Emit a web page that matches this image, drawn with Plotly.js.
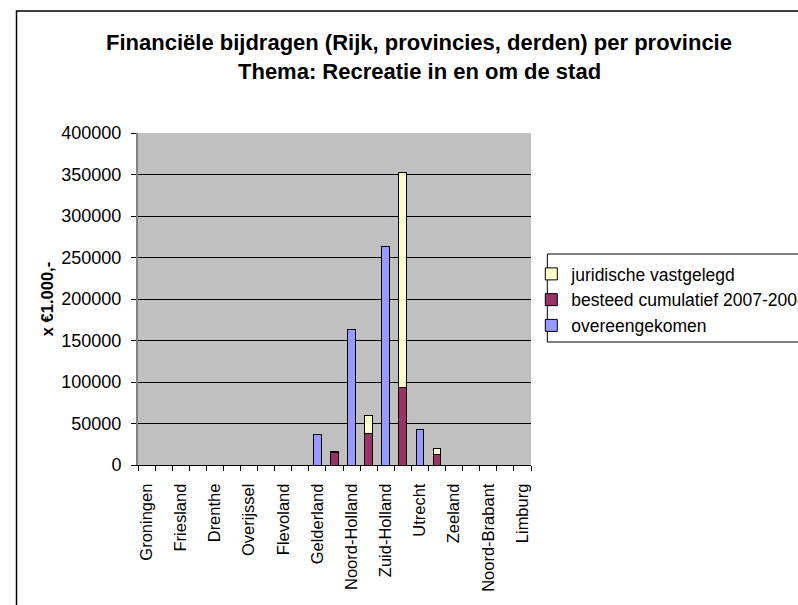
<!DOCTYPE html>
<html>
<head>
<meta charset="utf-8">
<script src="https://cdn.plot.ly/plotly-3.0.1.min.js"></script>
<style>html,body{margin:0;padding:0;background:#fff;}#chart{width:798px;height:605px;}</style>
</head>
<body>
<div id="chart"></div>
<script>
// Categories (provinces)
const provinces = ["Groningen","Friesland","Drenthe","Overijssel","Flevoland","Gelderland",
  "Noord-Holland","Zuid-Holland","Utrecht","Zeeland","Noord-Brabant","Limburg"];
// Series values (x € 1.000,-)
const overeengekomen = [null,null,null,null,null,36500,163000,263000,43000,null,null,null];
const besteed        = [null,null,null,null,null,14500,38000,93500,13000,null,null,null];
const juridisch      = [null,null,null,null,null,1200,22000,259500,6500,null,null,null];
// Axis ticks
const yTicks = [0,50000,100000,150000,200000,250000,300000,350000,400000];
const seriesNames = ["overeengekomen","besteed cumulatief 2007-2008","juridische vastgelegd"];

const FONT = "Liberation Sans, Arial, sans-serif";
// each province gets two slots: agreed bar, then the stacked spent/committed bar
const slotA = provinces.map((p,i)=>2*i);
const slotB = provinces.map((p,i)=>2*i+1);
const nSlots = provinces.length*2 - 1;
const boundaries = Array.from({length:nSlots+1},(_,k)=>k-0.5);

const barW = 0.46;
const traces = [
  {type:"bar", name:seriesNames[0], x:slotA, y:overeengekomen, width:barW, legendrank:3,
   marker:{color:"#9999FF", line:{color:"#000", width:1}}, hoverinfo:"skip"},
  {type:"bar", name:seriesNames[1], x:slotB, y:besteed, width:barW, legendrank:2,
   marker:{color:"#993366", line:{color:"#000", width:1}}, hoverinfo:"skip"},
  {type:"bar", name:seriesNames[2], x:slotB, y:juridisch, width:barW, legendrank:1,
   marker:{color:"#FFFFCC", line:{color:"#000", width:1}}, hoverinfo:"skip"},
  // invisible trace to carry boundary tick marks on the overlaying axis
  {type:"scatter", x:[-0.5], y:[0], xaxis:"x2", mode:"markers", marker:{opacity:0},
   showlegend:false, hoverinfo:"skip"}
];

const L=138.3, R=530.7, T=133, B=465;
const pw = R-L, ph = B-T;
const px = v => (v-L)/pw;
const py = v => (B-v)/ph;

const layout = {
  width:798, height:605,
  paper_bgcolor:"#fff", plot_bgcolor:"#C0C0C0",
  font:{family:FONT, size:17, color:"#000"},
  margin:{l:L, r:798-R, t:T, b:605-B, autoexpand:false},
  barmode:"stack",
  showlegend:true,
  title:{text:"Financiële bijdragen (Rijk, provincies, derden) per provincie",
         font:{family:FONT, size:22, color:"#000", weight:"bold"},
         x:419/798, xanchor:"center", xref:"container",
         y:1-42.5/605, yanchor:"middle", yref:"container"},
  annotations:[{text:"<b>Thema: Recreatie in en om de stad</b>", xref:"paper", yref:"paper",
    x:px(419), y:py(71.5), xanchor:"center", yanchor:"middle", showarrow:false,
    font:{family:FONT, size:22, color:"#000"}}],
  xaxis:{
    range:[-0.5, nSlots-0.5], tickmode:"array", tickvals:slotA, ticktext:provinces,
    tickangle:-90, ticks:"outside", ticklen:11, tickcolor:"rgba(0,0,0,0)",
    showgrid:false, zeroline:false, showline:true, linecolor:"#000", linewidth:1,
    tickfont:{family:FONT, size:16.5, color:"#000"}, fixedrange:true
  },
  xaxis2:{
    overlaying:"x", anchor:"y", side:"bottom",
    range:[-0.5, nSlots-0.5], tickmode:"array", tickvals:boundaries,
    ticks:"outside", ticklen:5, tickcolor:"#000", tickwidth:1,
    showticklabels:false, showgrid:false, zeroline:false, showline:false
  },
  yaxis:{
    range:[0,400000], tickmode:"array", tickvals:yTicks, ticktext:yTicks.map(String),
    ticks:"outside", ticklen:5, tickcolor:"#000", tickwidth:1,
    showgrid:true, gridcolor:"#000", gridwidth:1, zeroline:false,
    showline:true, linecolor:"#808080", linewidth:2,
    tickfont:{family:FONT, size:18, color:"#000"}, ticklabelstandoff:6,
    title:{text:"x €1.000,-", font:{family:FONT, size:16.5, color:"#000", weight:"bold"}, standoff:4},
    fixedrange:true
  },
  legend:{
    x:px(531), y:py(256), xanchor:"left", yanchor:"top", xref:"paper", yref:"paper",
    bgcolor:"rgba(0,0,0,0)", borderwidth:0,
    traceorder:"normal",
    font:{family:FONT, size:17.5, color:"#000"}, itemwidth:30
  },
  shapes:[
    {type:"rect", xref:"paper", yref:"paper",
     x0:px(17), x1:px(830), y0:py(640), y1:py(11),
     line:{color:"#000", width:1.5}, fillcolor:"rgba(0,0,0,0)", layer:"above"},
    {type:"rect", xref:"paper", yref:"paper",
     x0:px(547), x1:px(830), y0:py(342), y1:py(254),
     line:{color:"#000", width:1}, fillcolor:"#fff", layer:"below"}
  ]
};

Plotly.newPlot("chart", traces, layout, {displayModeBar:false, staticPlot:true});
</script>
</body>
</html>
